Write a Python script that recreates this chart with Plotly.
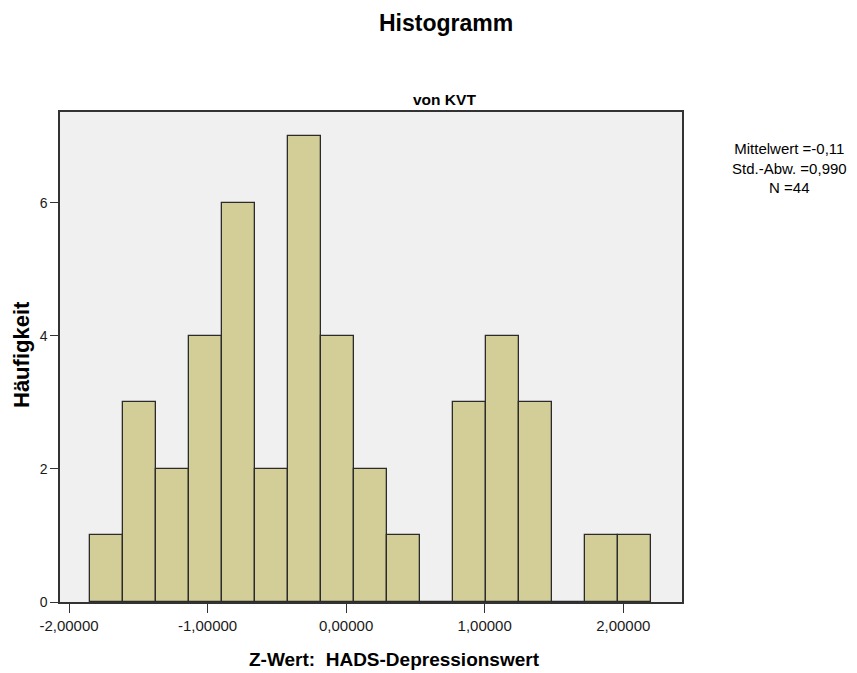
import plotly.graph_objects as go

bin_centers = [-1.729, -1.491, -1.253, -1.015, -0.777, -0.539, -0.300, -0.062,
               0.176, 0.414, 0.652, 0.890, 1.128, 1.366, 1.604, 1.843, 2.081]
counts = [1, 3, 2, 4, 6, 2, 7, 4, 2, 1, 0, 3, 4, 3, 0, 1, 1]
bin_width = 0.2381

x_ticks = [-2, -1, 0, 1, 2]
x_tick_labels = ["-2,00000", "-1,00000", "0,00000", "1,00000", "2,00000"]
y_ticks = [0, 2, 4, 6]
stats_lines = ["Mittelwert =-0,11", "Std.-Abw. =0,990", "N =44"]

FONT = "Liberation Sans, Arial, sans-serif"

# plot area in pixels
L, R, T, B = 60, 175, 112, 71
W, H = 857, 673
PW, PH = W - L - R, H - T - B


def px(x):
    return (x - L) / PW


def py(y):
    return (H - B - y) / PH


fig = go.Figure()
fig.add_trace(go.Bar(
    x=bin_centers, y=counts, width=bin_width,
    marker=dict(color="#D3CE97", line=dict(color="#2b2b2b", width=1.3)),
    hoverinfo="x+y",
))

annotations = [
    dict(text="<b>Histogramm</b>", x=px(446), y=py(23),
         font=dict(size=23, family=FONT, color="black")),
    dict(text="<b>von KVT</b>", x=px(444), y=py(100),
         font=dict(size=15.5, family=FONT, color="black")),
    dict(text="<b>Häufigkeit</b>", x=px(21), y=py(355), textangle=-90,
         font=dict(size=22, family=FONT, color="black")),
    dict(text="<b>Z-Wert:&nbsp; HADS-Depressionswert</b>", x=px(394), y=py(659),
         font=dict(size=19, family=FONT, color="black")),
    dict(text="<br>".join(stats_lines), x=px(789), y=py(168), align="center",
         font=dict(size=15, family=FONT, color="black")),
]
for a in annotations:
    a.update(xref="paper", yref="paper", xanchor="center", yanchor="middle",
             showarrow=False)

fig.update_layout(
    width=W, height=H,
    margin=dict(l=L, r=R, t=T, b=B),
    paper_bgcolor="white", plot_bgcolor="#F0F0F0",
    showlegend=False,
    font=dict(family=FONT, color="#1a1a1a", size=15),
    bargap=0,
    xaxis=dict(
        range=[-2.065, 2.424], tickvals=x_ticks, ticktext=x_tick_labels,
        ticks="outside", ticklen=9, tickcolor="#333", tickwidth=1.3,
        showgrid=False, zeroline=False,
        showline=True, linecolor="#333", linewidth=1.5, mirror=True,
        tickfont=dict(size=15),
    ),
    yaxis=dict(
        range=[0, 7.365], tickvals=y_ticks,
        ticks="outside", ticklen=8, tickcolor="#333", tickwidth=1.3,
        showgrid=False, zeroline=False,
        showline=True, linecolor="#333", linewidth=1.5, mirror=True,
        tickfont=dict(size=14),
    ),
    annotations=annotations,
)

fig.write_html("out.html")
